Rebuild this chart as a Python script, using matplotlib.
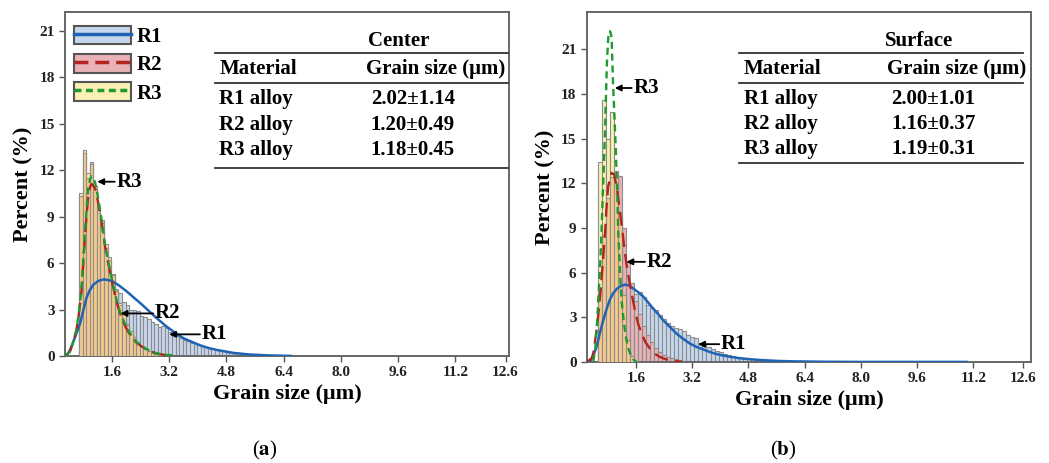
import matplotlib
matplotlib.use("Agg")
import matplotlib.pyplot as plt
import numpy as np
from matplotlib.patches import Patch
from matplotlib.lines import Line2D

plt.rcParams['font.family'] = ['Liberation Serif', 'DejaVu Serif']
plt.rcParams['font.weight'] = 'bold'
plt.rcParams['mathtext.fontset'] = 'stix'

# ---- (a) center: histogram heights (%) ----
a_start, a_width = 0.68, 0.1
a_r1 = [1.2, 2.1, 3.0, 3.8, 4.3, 4.6, 4.8, 4.8, 4.7, 4.4, 4.2, 4.05, 3.5, 3.3, 3.0,
        3.0, 2.9, 2.6, 2.5, 2.4, 2.2, 2.1, 1.9, 1.95, 1.8, 1.55, 1.4, 1.3, 1.15, 1.05,
        0.95, 0.85, 0.8, 0.7, 0.62, 0.56, 0.5, 0.45, 0.4, 0.36, 0.3, 0.28, 0.25, 0.22,
        0.2, 0.15, 0.12, 0.1, 0.07, 0.05, 0.04]
a_r2 = [10.3, 13.1, 11.5, 12.5, 11.0, 9.2, 8.8, 7.0, 6.2, 5.2, 4.3, 3.3, 2.8, 2.0,
        1.6, 1.2, 0.85, 0.6, 0.45, 0.32, 0.22, 0.15, 0.1, 0.07, 0.05, 0.03]
a_r3 = [10.5, 13.3, 11.8, 12.4, 10.8, 9.4, 8.6, 7.2, 6.4, 5.3, 4.2, 3.4, 2.7, 2.1,
        1.6, 1.2, 0.9, 0.6, 0.45, 0.3, 0.22, 0.15, 0.1, 0.07, 0.05, 0.03]

# fitted curves (a)
a_fit1_x = [0.29, 0.36, 0.43, 0.5, 0.6, 0.71, 0.8, 0.89, 0.98, 1.08, 1.22, 1.38, 1.6,
            1.8, 2.0, 2.2, 2.45, 2.66, 2.9, 3.13, 3.4, 3.6, 3.85, 4.06, 4.3,
            4.52, 5.0, 5.45, 6.0, 6.6]
a_fit1_y = [0.0, 0.12, 0.4, 0.8, 1.4, 2.1, 2.95, 3.75, 4.25, 4.6, 4.85, 4.95, 4.85,
            4.55, 4.2, 3.8, 3.3, 2.85, 2.35, 1.9, 1.45, 1.15, 0.9, 0.7, 0.52,
            0.4, 0.2, 0.1, 0.04, 0.01]
a_fit23_x = [0.29, 0.43, 0.52, 0.61, 0.68, 0.75, 0.8, 0.85, 0.9, 0.94, 0.99, 1.03,
             1.08, 1.13, 1.2, 1.27, 1.34, 1.4, 1.47, 1.55, 1.64, 1.73, 1.82, 1.92,
             2.0, 2.1, 2.2, 2.29, 2.38, 2.47, 2.56, 2.66, 2.8, 2.94, 3.1, 3.3]
a_fit2_y = [0, 0.3, 0.9, 1.7, 2.8, 4.2, 6.0, 7.8, 9.3, 10.4, 10.9, 11.1, 11.0, 10.8,
            10.1, 9.2, 8.2, 7.2, 6.3, 5.4, 4.4, 3.5, 2.8, 2.2, 1.8, 1.4, 1.1, 0.85,
            0.7, 0.56, 0.43, 0.33, 0.2, 0.12, 0.07, 0.04]
a_fit3_y = [0, 0.3, 0.9, 1.7, 2.9, 4.3, 6.2, 8.1, 9.7, 10.9, 11.4, 11.6, 11.5, 11.2,
            10.4, 9.4, 8.3, 7.3, 6.4, 5.5, 4.5, 3.6, 2.9, 2.3, 1.9, 1.5, 1.15, 0.9,
            0.72, 0.6, 0.45, 0.35, 0.22, 0.13, 0.08, 0.05]

# ---- (b) surface ----
b_start, b_width = 0.53, 0.114
b_r1 = [0.8, 1.8, 2.8, 3.8, 4.4, 4.9, 5.0, 5.1, 4.9, 4.6, 4.7, 4.4, 3.8, 3.6, 3.5,
        3.15, 2.9, 2.65, 2.4, 2.3, 2.2, 2.1, 1.8, 1.7, 1.6, 1.3, 1.25, 1.0, 0.9, 0.75,
        0.66, 0.55, 0.5, 0.4, 0.35, 0.3, 0.26, 0.22, 0.2, 0.16, 0.13, 0.1, 0.08, 0.06]
b_r2 = [4.8, 8.5, 11.0, 12.4, 12.8, 12.5, 9.0, 6.7, 5.3, 4.1, 3.2, 2.4, 1.8, 1.35,
        0.95, 0.7, 0.5, 0.35, 0.25, 0.18, 0.12, 0.08, 0.05]
b_r3 = [13.4, 17.6, 15.0, 16.8, 12.6, 10.0, 4.5, 1.5, 0.4, 0.1]

b_fit1_x = [0.29, 0.38, 0.48, 0.57, 0.67, 0.76, 0.86, 0.95, 1.05, 1.17, 1.29, 1.4,
            1.52, 1.66, 1.81, 1.95, 2.09, 2.24, 2.38, 2.57, 2.76, 2.95, 3.13, 3.32,
            3.51, 3.7, 3.89, 4.08, 4.27, 4.55, 4.8, 5.2, 5.6, 6.0, 7.0, 8.0, 9.0,
            10.0, 11.0]
b_fit1_y = [0, 0.4, 1.0, 1.9, 2.8, 3.5, 4.2, 4.6, 4.9, 5.1, 5.2, 5.15, 4.95, 4.7,
            4.4, 4.0, 3.6, 3.2, 2.8, 2.35, 1.9, 1.55, 1.25, 1.02, 0.85, 0.68, 0.54,
            0.44, 0.36, 0.26, 0.2, 0.13, 0.08, 0.05, 0.02, 0.01, 0.01, 0.01, 0.01]
b_fit2_x = [0.2, 0.34, 0.39, 0.48, 0.55, 0.62, 0.67, 0.72, 0.76, 0.81, 0.91, 0.98,
            1.05, 1.12, 1.19, 1.26, 1.33, 1.43, 1.57, 1.66, 1.76, 1.88, 2.0, 2.14,
            2.28, 2.46, 2.66, 2.9]
b_fit2_y = [0, 0.25, 0.6, 2.1, 3.6, 5.5, 7.0, 8.6, 10.2, 11.8, 12.7, 12.6, 11.8,
            10.6, 9.3, 7.9, 6.6, 5.2, 3.5, 2.6, 1.9, 1.3, 0.9, 0.55, 0.35, 0.18,
            0.08, 0.02]
b_fit3_x = [0.39, 0.45, 0.5, 0.53, 0.58, 0.62, 0.67, 0.72, 0.76, 0.78, 0.81, 0.83,
            0.87, 0.91, 0.95, 0.99, 1.03, 1.07, 1.1, 1.15, 1.19, 1.26, 1.33, 1.4,
            1.48, 1.55, 1.62]
b_fit3_y = [0.05, 1.0, 2.8, 4.2, 6.3, 8.6, 12.0, 15.4, 18.8, 20.3, 21.6, 22.2, 22.2,
            21.8, 18.7, 16.5, 14.2, 11.3, 8.6, 6.0, 4.2, 2.6, 1.5, 0.8, 0.35, 0.12,
            0.0]

materials = ['R1 alloy', 'R2 alloy', 'R3 alloy']
a_sizes = ['2.02\u00b11.14', '1.20\u00b10.49', '1.18\u00b10.45']
b_sizes = ['2.00\u00b11.01', '1.16\u00b10.37', '1.19\u00b10.31']

xticks = [1.6, 3.2, 4.8, 6.4, 8.0, 9.6, 11.2, 12.6]
yticks = [0, 3, 6, 9, 12, 15, 18, 21]

c1_face, c2_face, c3_face, c_over = '#c6d7ed', '#e8b2b6', '#faf0b4', '#f4c68a'
c1_line, c2_line, c3_line = '#1f63b5', '#b3241f', '#1f9a2e'
edge = '#8c8c8c'


def bars(ax, start, width, r1, r2, r3):
    e1 = start + width * np.arange(len(r1))
    e2 = start + width * np.arange(len(r2))
    e3 = start + width * np.arange(len(r3))
    ax.bar(e1, r1, width=width, align='edge', color=c1_face, edgecolor=edge, lw=0.8, zorder=1)
    ax.bar(e2, r2, width=width, align='edge', color=c2_face, edgecolor=edge, lw=0.8, zorder=2)
    ax.bar(e3, r3, width=width, align='edge', color=c3_face, edgecolor=edge, lw=0.8, zorder=3)
    n = min(len(r2), len(r3))
    over = np.minimum(r2[:n], r3[:n])
    ax.bar(e3[:n], over, width=width, align='edge', color=c_over, edgecolor=edge,
           lw=0.8, alpha=0.92, zorder=4)


def table(ax, title, sizes, ys, x0, x1, xg, xv):
    kw = dict(transform=ax.transAxes, fontsize=15, fontweight='bold', va='center')
    ax.text((x0 + x1) / 2 + 0.085, ys[0], title, ha='center', **kw)
    ax.text(x0 + 0.01, ys[2], 'Material', ha='left', **kw)
    ax.text(xg, ys[2], 'Grain size (\u03bcm)', ha='left', **kw)
    for i in range(3):
        ax.text(x0 + 0.01, ys[4 + i], materials[i], ha='left', **kw)
        ax.text(xv, ys[4 + i], sizes[i], ha='left', **kw)
    for yl in (ys[1], ys[3], ys[7]):
        ax.plot([x0, x1], [yl, yl], transform=ax.transAxes, color='#333333', lw=1.3,
                clip_on=False, zorder=6)


def label(ax, text, tip, tail):
    ax.annotate('', xy=tip, xytext=tail,
                arrowprops=dict(arrowstyle='-|>', color='black', lw=1.3,
                                mutation_scale=9, shrinkA=0, shrinkB=0), zorder=7)
    ax.text(tail[0] + 0.05, tail[1], text, fontsize=15, fontweight='bold',
            ha='left', va='center', zorder=7)


def style(ax, xlim, ylim):
    ax.set_xlim(*xlim)
    ax.set_ylim(*ylim)
    ax.set_xticks(xticks)
    ax.set_xticklabels(['%.1f' % t for t in xticks])
    ax.set_yticks(yticks)
    ax.tick_params(direction='out', length=4, width=1, colors='#555555',
                   labelcolor='#222222', labelsize=11)
    for s in ax.spines.values():
        s.set_color('#666666')
        s.set_linewidth(1.4)
    ax.set_xlabel('Grain size (\u03bcm)', fontsize=16, fontweight='bold', labelpad=3)
    ax.set_ylabel('Percent (%)', fontsize=16, fontweight='bold', labelpad=4)


fig = plt.figure(figsize=(10.49, 4.63), dpi=100)
ax1 = fig.add_axes([0.062, 0.231, 0.423, 0.743])
ax2 = fig.add_axes([0.5596, 0.218, 0.423, 0.756])

# panel (a)
bars(ax1, a_start, a_width, a_r1, a_r2, a_r3)
ax1.plot(a_fit1_x, a_fit1_y, color=c1_line, lw=1.8, zorder=5)
ax1.plot(a_fit23_x, a_fit2_y, color=c2_line, lw=1.7, ls=(0, (6, 3)), zorder=5)
ax1.plot(a_fit23_x, a_fit3_y, color=c3_line, lw=1.7, ls=(0, (3, 2)), zorder=5)
style(ax1, (0.29, 12.69), (0, 22.2))
table(ax1, 'Center', a_sizes,
      [0.916, 0.882, 0.834, 0.794, 0.747, 0.672, 0.599, 0.547],
      0.338, 0.998, 0.678, 0.689)
label(ax1, 'R3', (1.19, 11.25), (1.68, 11.25))
label(ax1, 'R2', (1.84, 2.75), (2.75, 2.75))
label(ax1, 'R1', (3.2, 1.4), (4.06, 1.4))

handles = [
    (Patch(facecolor=c1_face, edgecolor='#555555', lw=1.5), Line2D([], [], color=c1_line, lw=2.5)),
    (Patch(facecolor=c2_face, edgecolor='#555555', lw=1.5), Line2D([], [], color=c2_line, lw=2.5, ls=(0, (4, 2)))),
    (Patch(facecolor=c3_face, edgecolor='#555555', lw=1.5), Line2D([], [], color=c3_line, lw=2.5, ls=(0, (2, 1.3)))),
]
ax1.legend(handles, ['R1', 'R2', 'R3'], loc='upper left', bbox_to_anchor=(-0.01, 1.0),
           frameon=False, fontsize=15, handlelength=2.75, handleheight=1.0,
           labelspacing=0.33, handletextpad=0.25, borderaxespad=0.45, borderpad=0.2)

# panel (b)
bars(ax2, b_start, b_width, b_r1, b_r2, b_r3)
ax2.plot(b_fit1_x, b_fit1_y, color=c1_line, lw=1.8, zorder=5)
ax2.plot(b_fit2_x, b_fit2_y, color=c2_line, lw=1.7, ls=(0, (6, 3)), zorder=5)
ax2.plot(b_fit3_x, b_fit3_y, color=c3_line, lw=1.7, ls=(0, (3, 2)), zorder=5)
style(ax2, (0.21, 12.83), (0, 23.5))
table(ax2, 'Surface', b_sizes,
      [0.917, 0.884, 0.837, 0.798, 0.751, 0.680, 0.609, 0.569],
      0.343, 0.983, 0.675, 0.686)
label(ax2, 'R3', (1.0, 18.4), (1.48, 18.4))
label(ax2, 'R2', (1.33, 6.73), (1.86, 6.73))
label(ax2, 'R1', (3.37, 1.2), (3.97, 1.2))

fig.text(265 / 1049, 1 - 450 / 463, r'($\mathbf{a}$)', fontsize=15, fontweight='normal',
         ha='center', va='center')
fig.text(783 / 1049, 1 - 450 / 463, r'($\mathbf{b}$)', fontsize=15, fontweight='normal',
         ha='center', va='center')

fig.savefig('out.png', dpi=100)
